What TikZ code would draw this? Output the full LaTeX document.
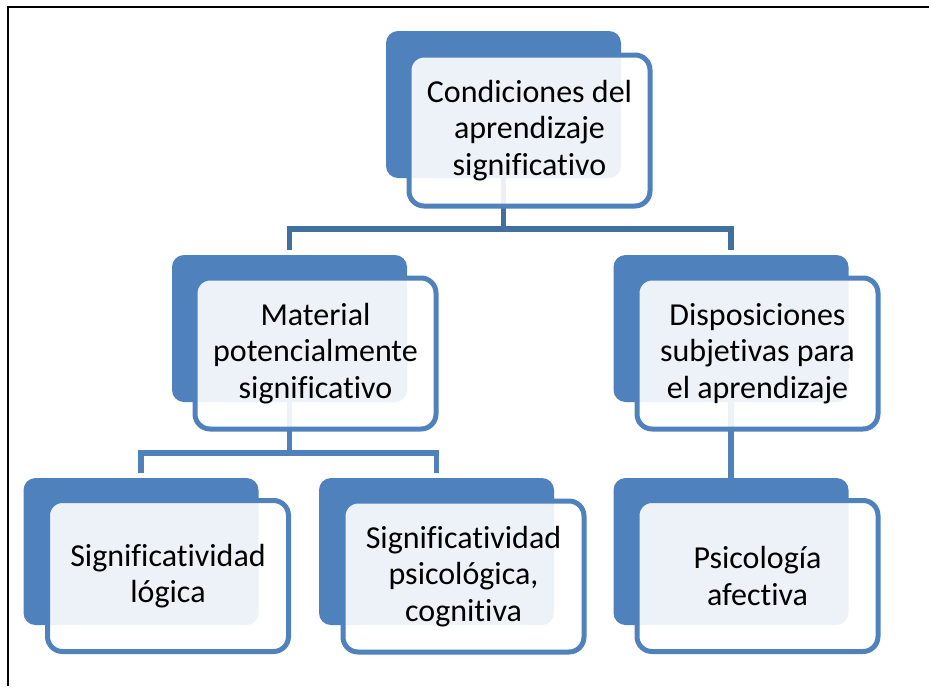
\documentclass[tikz,border=0pt]{standalone}
\usepackage{fontspec}
\setmainfont{Carlito}[Ligatures=NoCommon]
\usetikzlibrary{calc}
\definecolor{accent}{HTML}{4F81BD}
\definecolor{connA}{HTML}{41709F}
\tikzset{
  backbox/.style={fill=accent, draw=none, rounded corners=12pt, minimum width=235pt, minimum height=147pt, inner sep=0pt},
  frontbox/.style={fill=white, fill opacity=0.9, text opacity=1, draw=accent, draw opacity=1, line width=5pt, rounded corners=15pt, minimum width=241pt, minimum height=151pt, align=center, font=\fontsize{32pt}{36.5pt}\selectfont, text=black, inner sep=0pt},
  connTop/.style={draw=connA, line width=5.5pt},
  connLow/.style={draw=accent, line width=5.5pt},
  frame/.style={draw=black, line width=2pt}
}
\begin{document}
\begin{tikzpicture}[x=1pt, y=-1pt]
\useasboundingbox (0,0) rectangle (929,686);
\coordinate (fa) at (8,686);
\coordinate (fb) at (8,7);
\coordinate (fc) at (930,7);
\draw[frame] (fa) -- (fb) -- (fc);

% back box centres
\path (503.5,104.5) coordinate (topc);
\path (289.5,328.5) coordinate (matc);
\path (731,328.5) coordinate (dispc);
\path (141,551.5) coordinate (slc);
\path (436.5,551.5) coordinate (spc);
\path (731,551.5) coordinate (psc);

% connector anchors
\path (topc) ++(0,73.5) coordinate (topS);
\path (matc) ++(0,-73.5) coordinate (matN);
\path (matc) ++(0,73.5) coordinate (matS);
\path (dispc) ++(0,-73.5) coordinate (dispN);
\path (dispc) ++(0,73.5) coordinate (dispS);
\path (slc) ++(0,-73.5) coordinate (slN);
\path (spc) ++(0,-73.5) coordinate (spN);
\path (psc) ++(0,-73.5) coordinate (psN);
\coordinate (j1) at (503.5,229);
\coordinate (j2) at (289.5,453);

\draw[connTop, shorten >=5pt] (topS) -- (j1) -| (matN);
\draw[connTop, shorten >=5pt] (j1) -| (dispN);
\draw[connLow, shorten >=5pt] (matS) -- (j2) -| (slN);
\draw[connLow, shorten >=5pt] (j2) -| (spN);
\draw[connLow] (dispS) -- (psN);

% back boxes
\node[backbox] (topb) at (topc) {};
\node[backbox] (matb) at (matc) {};
\node[backbox] (dispb) at (dispc) {};
\node[backbox] (slb) at (slc) {};
\node[backbox] (spb) at (spc) {};
\node[backbox] (psb) at (psc) {};

% front boxes
\node[frontbox] (top) at ($(topc)+(26,26)$) {Condiciones del\\aprendizaje\\significativo};
\node[frontbox] (mat) at ($(matc)+(26,25)$) {Material\\potencialmente\\significativo};
\node[frontbox] (disp) at ($(dispc)+(26.5,25)$) {Disposiciones\\subjetivas para\\el aprendizaje};
\node[frontbox] (sl) at ($(slc)+(27,24.5)$) {Significatividad\\lógica};
\node[frontbox] (sp) at ($(spc)+(27,25)$) {Significatividad\\psicológica,\\cognitiva};
\node[frontbox] (ps) at ($(psc)+(26.5,24.5)$) {Psicología\\afectiva};
\end{tikzpicture}
\end{document}
